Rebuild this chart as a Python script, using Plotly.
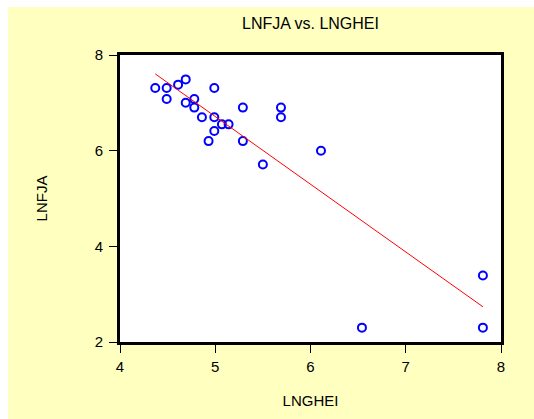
import numpy as np
import plotly.graph_objects as go

# Data
lnghei = [4.37, 4.49, 4.61, 4.69, 4.99, 4.49, 4.69, 4.78, 4.78, 4.86, 4.99, 5.29,
          5.69, 5.69, 5.07, 5.14, 4.99, 4.93, 5.29, 6.11, 5.50, 6.54, 7.81, 7.81]
lnfja = [7.31, 7.31, 7.38, 7.49, 7.31, 7.08, 7.00, 7.08, 6.90, 6.70, 6.70, 6.90,
         6.90, 6.70, 6.55, 6.55, 6.41, 6.20, 6.20, 6.00, 5.71, 2.30, 2.30, 3.39]
x_ticks = [4, 5, 6, 7, 8]
y_ticks = [2, 4, 6, 8]

# Least-squares fit line
slope, intercept = np.polyfit(lnghei, lnfja, 1)
fit_x = [min(lnghei), max(lnghei)]
fit_y = [slope * v + intercept for v in fit_x]

W, H = 534, 419
ML, MR, MT, MB = 120, 33, 55, 77
PW, PH = W - ML - MR, H - MT - MB

fig = go.Figure()
fig.add_trace(go.Scatter(
    x=lnghei, y=lnfja, mode="markers",
    marker=dict(symbol="circle-open", size=8, color="#0000FF",
                line=dict(width=2, color="#0000FF")),
    showlegend=False, cliponaxis=False))
fig.add_trace(go.Scatter(
    x=fit_x, y=fit_y, mode="lines",
    line=dict(color="#FF0000", width=1), showlegend=False))

FAM = "Liberation Sans, Arial, sans-serif"
font = dict(family=FAM, size=15, color="#000000")

# white strips at the top and left of the picture
fig.add_shape(type="rect", xref="paper", yref="paper", layer="below",
              x0=-ML / PW - 0.05, x1=(8 - ML) / PW, y0=-MB / PH - 0.05, y1=(MT + PH) / PH + 0.1,
              fillcolor="#FFFFFF", line=dict(width=0))
fig.add_shape(type="rect", xref="paper", yref="paper", layer="below",
              x0=-ML / PW - 0.05, x1=(W - ML) / PW + 0.05, y0=(H - MB - 7) / PH, y1=(MT + PH) / PH + 0.1,
              fillcolor="#FFFFFF", line=dict(width=0))

axis_common = dict(showgrid=False, zeroline=False, showline=True, mirror=True,
                   linecolor="#000000", linewidth=3, ticks="outside", ticklen=8,
                   tickwidth=1, tickcolor="#000000", tickfont=font, automargin=False)

fig.update_layout(
    width=W, height=H,
    margin=dict(l=ML, r=MR, t=MT, b=MB),
    paper_bgcolor="#FFFFC0", plot_bgcolor="#FFFFFF",
    title=dict(text="LNFJA vs. LNGHEI", x=(ML + PW / 2) / W, xanchor="center",
               y=1 - 23 / H, yanchor="middle",
               font=dict(family=FAM, size=16, color="#000000")),
    xaxis=dict(range=[4, 8], tickvals=x_ticks, ticktext=[str(v) for v in x_ticks],
               ticklabelstandoff=1,
               title=dict(text="LNGHEI", font=font, standoff=22), **axis_common),
    yaxis=dict(range=[2, 8], tickvals=y_ticks, ticktext=[str(v) for v in y_ticks],
               ticklabelstandoff=3,
               title=dict(text="LNFJA", font=font, standoff=44), **axis_common),
)

fig.write_html("out.html")
